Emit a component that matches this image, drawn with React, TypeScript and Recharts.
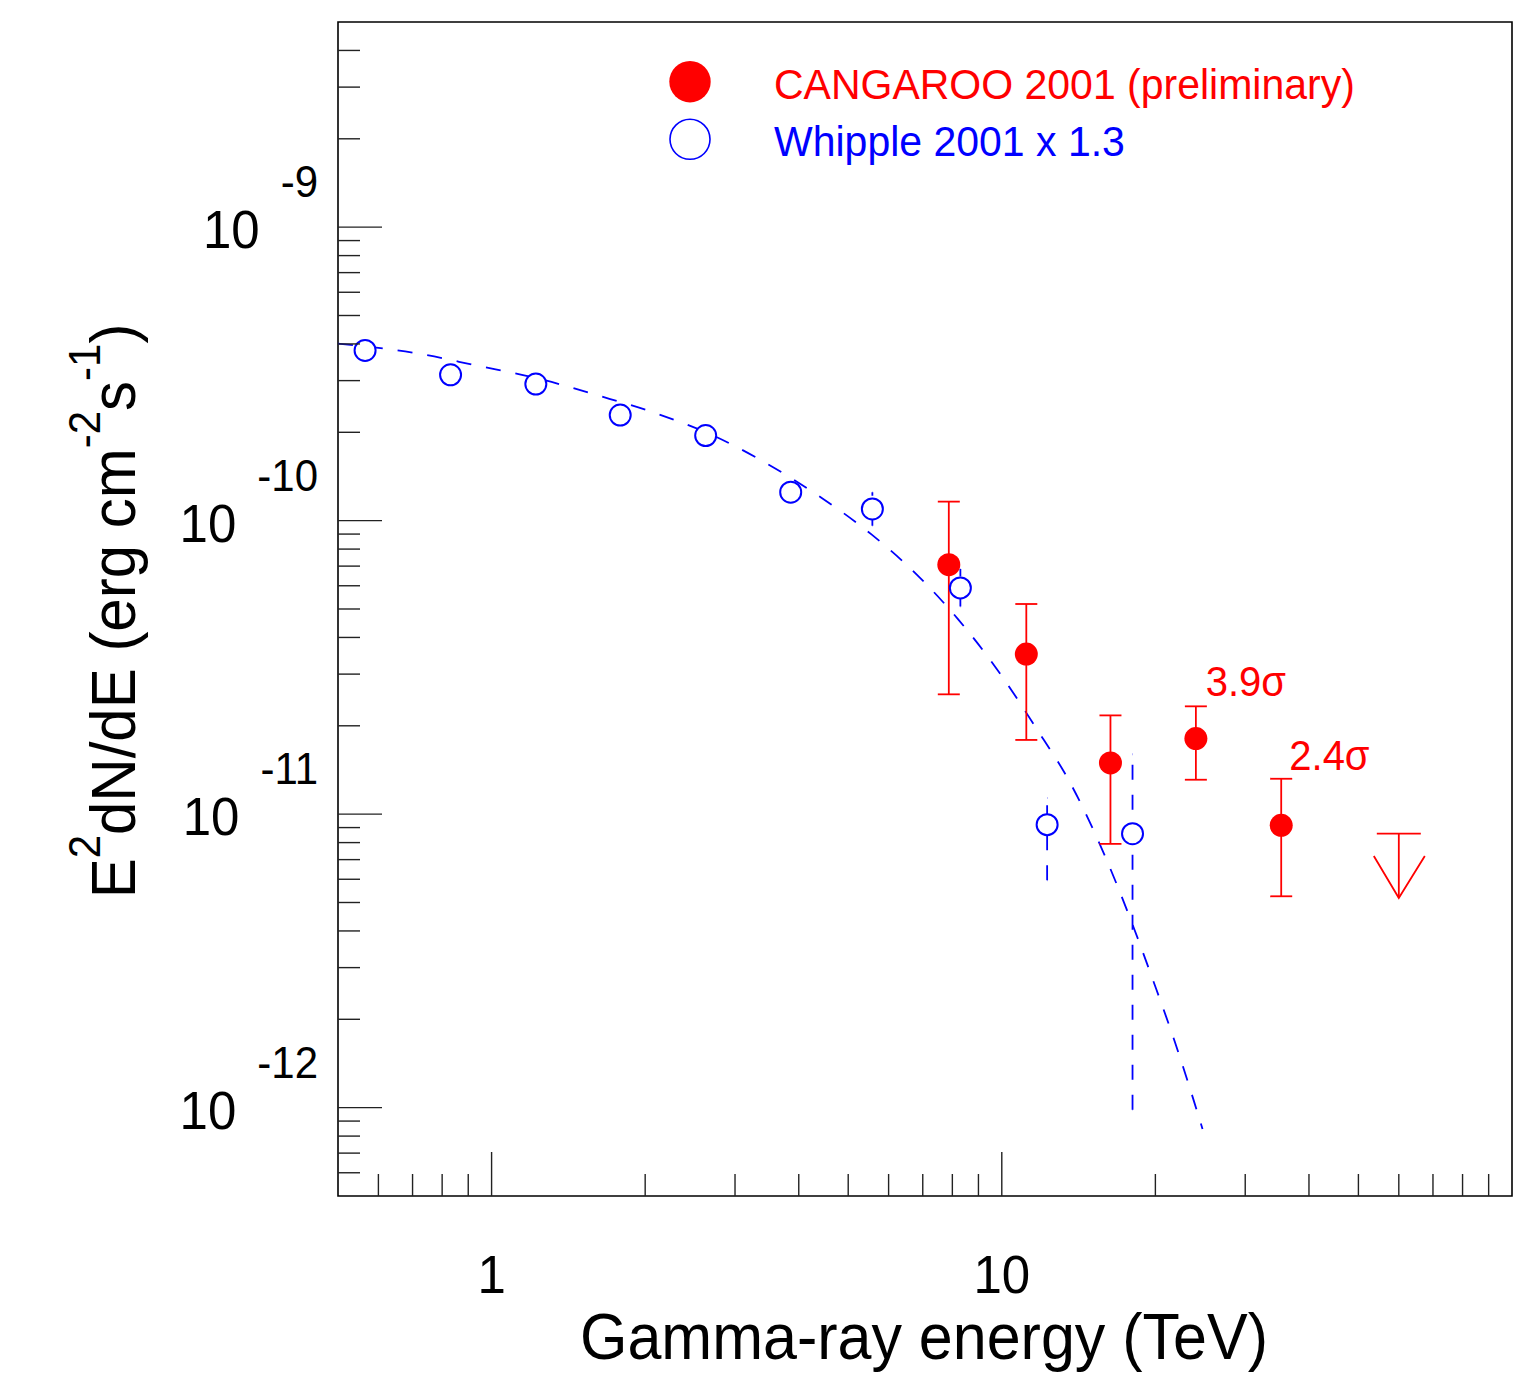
import React from "react";
import { ComposedChart, XAxis, YAxis, Scatter, Line, ErrorBar, ReferenceArea } from "recharts";

const FONT = "'Liberation Sans', Arial, Helvetica, sans-serif";
const SY = 1.06; // glyphs in the original are a little taller than wide
const RED = "#ff0000";
const BLUE = "#0000ff";

// Whipple 2001 x 1.3 (TeV, erg cm^-2 s^-1)
const whippleE = [0.565, 0.831, 1.221, 1.787, 2.628, 3.857, 5.576, 8.295, 12.27, 18.04];
const whippleF = [3.8e-10, 3.14e-10, 2.92e-10, 2.29e-10, 1.95e-10, 1.25e-10, 1.096e-10, 5.9e-11, 9.21e-12, 8.58e-12];
const whippleLo = [3.8e-10, 3.14e-10, 2.92e-10, 2.29e-10, 1.95e-10, 1.25e-10, 9.6e-11, 5.1e-11, 5.95e-12, 9.84e-13];
const whippleHi = [3.8e-10, 3.14e-10, 2.92e-10, 2.29e-10, 1.95e-10, 1.25e-10, 1.25e-10, 6.84e-11, 1.135e-11, 1.6e-11];

// CANGAROO 2001 (preliminary)
const cangE = [7.873, 11.17, 16.33, 24.01, 35.29];
const cangF = [7.08e-11, 3.51e-11, 1.494e-11, 1.81e-11, 9.16e-12];
const cangLo = [2.56e-11, 1.79e-11, 7.92e-12, 1.31e-11, 5.25e-12];
const cangHi = [1.161e-10, 5.2e-11, 2.17e-11, 2.33e-11, 1.32e-11];

// upper limit
const ulE = 60;
const ulF = 8.58e-12;
const ulTip = 5.18e-12;

// significance notes
const noteText = ["3.9σ", "2.4σ"];
const noteE = [25.1, 36.6];
const noteF = [2.52e-11, 1.41e-11];

// dashed fit curve
const fitE = [0.5, 0.706, 0.94, 1.233, 1.616, 2.087, 2.737, 3.408, 4.437, 5.561, 6.813, 8.221, 9.847, 11.62, 13.61, 15.94, 17.99, 19.83, 21.8, 23.75, 24.74];
const fitF = [4.01e-10, 3.73e-10, 3.37e-10, 3.05e-10, 2.67e-10, 2.33e-10, 1.94e-10, 1.59e-10, 1.195e-10, 8.96e-11, 6.55e-11, 4.6e-11, 3.07e-11, 1.99e-11, 1.28e-11, 7.18e-12, 4.26e-12, 2.69e-12, 1.69e-12, 1.065e-12, 8.46e-13];

const xDomain = [0.5, 100];
const yDomain = [5e-13, 5e-9];
const mant = [1, 2, 3, 4, 5, 6, 7, 8, 9];
const xTicks = [0.1, 1, 10].flatMap((d) => mant.map((m) => m * d)).filter((v) => v > 0.5001 && v < 99.99);
const yTicks = [1e-13, 1e-12, 1e-11, 1e-10, 1e-9].flatMap((d) => mant.map((m) => m * d)).filter((v) => v > 5.001e-13 && v < 4.999e-9);

const whippleData = whippleE.map((x, i) => ({ x, y: whippleF[i], err: [whippleF[i] - whippleLo[i], whippleHi[i] - whippleF[i]] }));
const cangData = cangE.map((x, i) => ({ x, y: cangF[i], err: [cangF[i] - cangLo[i], cangHi[i] - cangF[i]] }));
const fitData = fitE.map((x, i) => ({ x, y: fitF[i] }));
const ulBar = [{ x: ulE, y: ulF, err: [ulF - ulTip, 0] }];
const ulHead = [{ x: ulE, y: ulTip }];
const noteData = noteE.map((x, i) => ({ x, y: noteF[i], label: noteText[i] }));

function isPow10(v: number) {
  const l = Math.log10(v);
  return Math.abs(l - Math.round(l)) < 1e-6;
}

function T({ x, y, size, color = "#000", anchor = "start", rotate, children }: any) {
  return (
    <g transform={`translate(${x},${y})${rotate ? ` rotate(${rotate})` : ""} scale(1,${SY})`}>
      <text x={0} y={0} fontFamily={FONT} fontSize={size} fill={color} textAnchor={anchor}>
        {children}
      </text>
    </g>
  );
}

function XTick(props: any) {
  const { x, y, payload } = props;
  const v = payload.value;
  const major = isPow10(v);
  return (
    <g>
      <line x1={x} x2={x} y1={y} y2={y - (major ? 44 : 22)} stroke="#222" strokeWidth={1.4} />
      {major && (
        <T x={x} y={y + 97} size={51} anchor="middle">
          {String(Math.round(v))}
        </T>
      )}
    </g>
  );
}

function YTick(props: any) {
  const { x, y, payload } = props;
  const v = payload.value;
  const major = isPow10(v);
  const exp = Math.round(Math.log10(v));
  return (
    <g>
      <line x1={x} x2={x + (major ? 44 : 22)} y1={y} y2={y} stroke="#222" strokeWidth={1.4} />
      {major && (
        <g transform={`translate(${x - 20},${y + 21}) scale(1,${SY})`}>
          <text x={0} y={0} textAnchor="end" fontFamily={FONT} fontSize={51} fill="#000">
            10
            <tspan dx={21} dy={-48} fontSize={42}>
              {String(exp)}
            </tspan>
          </text>
        </g>
      )}
    </g>
  );
}

const W = 1507;
const H = 1360;

export default function App() {
  return (
    <div style={{ position: "relative", width: W, height: H, margin: 8 }}>
      <style>{"html{overflow:hidden} body{margin:0}"}</style>
      <ComposedChart width={W} height={H} margin={{ top: 14, left: 329, right: 3, bottom: 171 }}>
        <XAxis
          dataKey="x"
          type="number"
          scale="log"
          domain={xDomain}
          allowDataOverflow
          ticks={xTicks}
          interval={0}
          tick={XTick}
          tickLine={false}
          axisLine={false}
          tickSize={0}
          tickMargin={0}
          height={1}
        />
        <YAxis
          dataKey="y"
          type="number"
          scale="log"
          domain={yDomain}
          allowDataOverflow
          ticks={yTicks}
          interval={0}
          tick={YTick}
          tickLine={false}
          axisLine={false}
          tickSize={0}
          tickMargin={0}
          width={1}
        />
        <Scatter
          data={whippleData}
          isAnimationActive={false}
          shape={(p: any) => <circle cx={p.cx} cy={p.cy} r={10.5} fill="#fff" stroke={BLUE} strokeWidth={2} />}
        >
          <ErrorBar dataKey="err" direction="y" width={0} stroke={BLUE} strokeWidth={1.8} strokeDasharray="15 15" isAnimationActive={false} />
        </Scatter>
        <Line
          data={fitData}
          dataKey="y"
          type="monotone"
          stroke={BLUE}
          strokeWidth={1.8}
          strokeDasharray="15 15"
          dot={false}
          isAnimationActive={false}
        />
        <Scatter
          data={cangData}
          isAnimationActive={false}
          shape={(p: any) => <circle cx={p.cx} cy={p.cy} r={11.5} fill={RED} />}
        >
          <ErrorBar dataKey="err" direction="y" width={11} stroke={RED} strokeWidth={1.8} isAnimationActive={false} />
        </Scatter>
        <Scatter
          data={ulBar}
          isAnimationActive={false}
          shape={(p: any) => <line x1={p.cx - 22} x2={p.cx + 22} y1={p.cy} y2={p.cy} stroke={RED} strokeWidth={1.8} />}
        >
          <ErrorBar dataKey="err" direction="y" width={0} stroke={RED} strokeWidth={1.8} isAnimationActive={false} />
        </Scatter>
        <Scatter
          data={ulHead}
          isAnimationActive={false}
          shape={(p: any) => (
            <polyline
              points={`${p.cx - 25},${p.cy - 42} ${p.cx},${p.cy} ${p.cx + 26},${p.cy - 42}`}
              fill="none"
              stroke={RED}
              strokeWidth={1.8}
            />
          )}
        />
        <Scatter
          data={noteData}
          isAnimationActive={false}
          shape={(p: any) => (
            <T x={p.cx} y={p.cy} size={40} color={RED}>
              {p.payload ? p.payload.label : ""}
            </T>
          )}
        />
        <ReferenceArea
          x1={xDomain[0]}
          x2={xDomain[1]}
          y1={yDomain[0]}
          y2={yDomain[1]}
          fill="none"
          fillOpacity={0}
          stroke="#000"
          strokeWidth={1.6}
        />
      </ComposedChart>
      <svg width={W} height={H} style={{ position: "absolute", left: 0, top: 0, overflow: "visible", pointerEvents: "none" }}>
        <circle cx={682} cy={73.7} r={20.7} fill={RED} />
        <circle cx={682} cy={131.3} r={20} fill="none" stroke={BLUE} strokeWidth={1.6} />
        <T x={766} y={91} size={41} color={RED}>
          CANGAROO 2001 (preliminary)
        </T>
        <T x={766} y={148} size={41} color={BLUE}>
          Whipple 2001 x 1.3
        </T>
        <T x={916} y={1351} size={61} anchor="middle">
          Gamma-ray energy (TeV)
        </T>
        <T x={127} y={603} size={60} anchor="middle" rotate={-90}>
          E
          <tspan dy={-33} fontSize={42}>2</tspan>
          <tspan dy={33}>dN/dE (erg cm</tspan>
          <tspan dy={-33} fontSize={42}>-2</tspan>
          <tspan dy={33}>s</tspan>
          <tspan dy={-33} fontSize={42}>-1</tspan>
          <tspan dy={33}>)</tspan>
        </T>
      </svg>
    </div>
  );
}
